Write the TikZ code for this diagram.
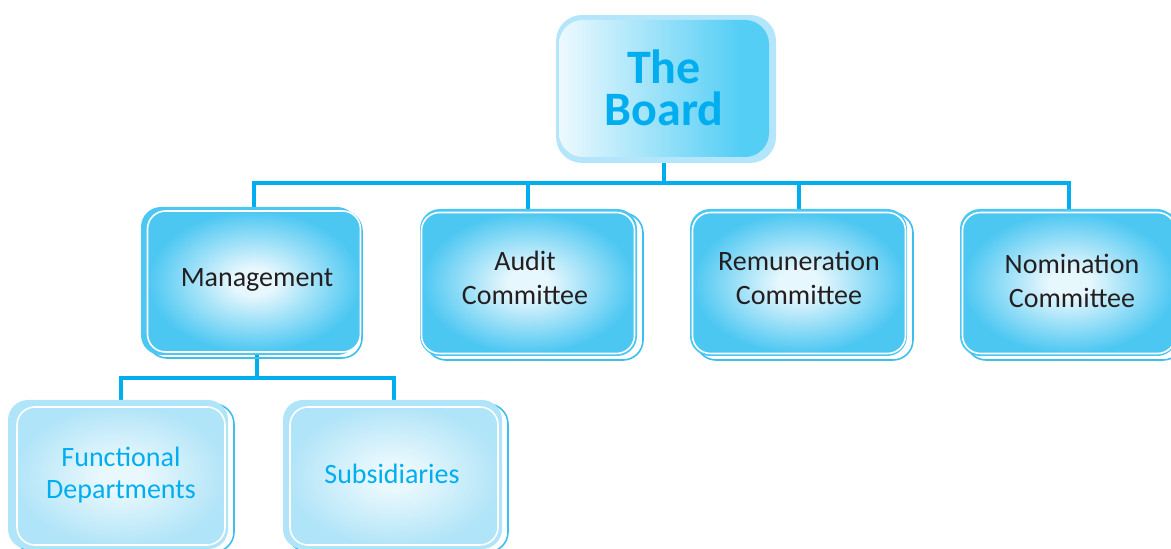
\documentclass[tikz,border=0pt]{standalone}
\usepackage{fontspec}
\setmainfont{Carlito}
\usetikzlibrary{backgrounds}
\definecolor{linec}{HTML}{00AEEF}
\definecolor{ltwoin}{HTML}{E6F7FD}
\definecolor{ltwoout}{HTML}{4CC7F2}
\definecolor{lthreein}{HTML}{E9F8FD}
\definecolor{lthreeout}{HTML}{B0E4F8}
\definecolor{bleft}{HTML}{EDF9FE}
\definecolor{bright}{HTML}{55CEF5}
\definecolor{bback}{HTML}{B3E6FA}
\definecolor{txt}{HTML}{231F20}
\definecolor{edgec}{HTML}{3DBFEE}
\pgfdeclareradialshading{ltwoshade}{\pgfpoint{0bp}{0bp}}{color(0bp)=(ltwoin); color(5bp)=(ltwoin); color(25bp)=(ltwoout); color(50bp)=(ltwoout)}
\pgfdeclareradialshading{lthreeshade}{\pgfpoint{0bp}{0bp}}{color(0bp)=(lthreein); color(5bp)=(lthreein); color(26bp)=(lthreeout); color(50bp)=(lthreeout)}
\pgfdeclarehorizontalshading{boardshade}{100bp}{color(0bp)=(bleft); color(25bp)=(bleft); color(68bp)=(bright); color(100bp)=(bright)}
\tikzset{
  conn/.style={draw=linec, line width=3.2bp},
  front/.style={rectangle, rounded corners=18bp, draw=white, line width=1.6bp, inner sep=0pt},
  ltwo/.style={front, shade, shading=ltwoshade, minimum width=213bp, minimum height=141bp},
  lthree/.style={front, shade, shading=lthreeshade, minimum width=208bp, minimum height=138bp},
  ltwotext/.style={inner sep=0pt, align=center, text=txt, font=\fontsize{28bp}{34bp}\selectfont},
  lthreetext/.style={inner sep=0pt, align=center, text=linec, font=\fontsize{28bp}{32bp}\selectfont},
  boardst/.style={rectangle, rounded corners=24bp, draw=none, shade, shading=boardshade, inner sep=0pt, minimum width=210bp, minimum height=137bp},
  boardtext/.style={inner sep=0pt, anchor=base, text=linec, font=\fontsize{48bp}{43bp}\selectfont\bfseries},
  backedge/.style={rounded corners=20bp, draw=edgec, line width=1.6bp},
  backfilltwo/.style={rounded corners=20bp, fill=ltwoout},
  backfillthree/.style={rounded corners=20bp, fill=lthreeout},
}
\begin{document}
\begin{tikzpicture}[x=1bp,y=-1bp]
\useasboundingbox (0,0) rectangle (1171,549);
% board
\fill[bback, rounded corners=26bp] (556,15) rectangle (776,163);
\node[boardst] (board) at (664,88.5) {};
\node[boardtext] (boardt1) at (664,84) {The};
\node[boardtext] (boardt2) at (664,126) {Board};
% level 2
\draw[backedge] (147,211) rectangle (362,358);
\fill[backfilltwo] (141,207) rectangle (357,355);
\node[ltwo] (mgmt) at (254,281.5) {};
\node[ltwotext] (mgmtt) at (257,280) {Management};
\draw[backedge] (426,213) rectangle (643,360);
\fill[backfilltwo] (420,209) rectangle (637,356);
\node[ltwo] (audit) at (528,283) {};
\node[ltwotext] (auditt) at (525,278) {Audit\\Committee};
\draw[backedge] (696,213) rectangle (913,360);
\fill[backfilltwo] (690,209) rectangle (907,356);
\node[ltwo] (remun) at (799,283) {};
\node[ltwotext] (remunt) at (799,278) {Remuneration\\Committee};
\draw[backedge] (966,213) rectangle (1183,360);
\fill[backfilltwo] (960,209) rectangle (1177,356);
\node[ltwo] (nom) at (1069,283) {};
\node[ltwotext] (nomt) at (1072,280.5) {Nomination\\Committee};
% level 3
\draw[backedge] (14,404) rectangle (234,552);
\fill[backfillthree] (8,400) rectangle (228,549);
\node[lthree] (func) at (121,476) {};
\node[lthreetext] (funct) at (121,475) {Functional\\Departments};
\draw[backedge] (288,404) rectangle (508,552);
\fill[backfillthree] (283,400) rectangle (502,549);
\node[lthree] (subs) at (394,476) {};
\node[lthreetext] (subst) at (392,474) {Subsidiaries};
% connectors
\coordinate (bus) at (664,183);
\coordinate (mbus) at (257,378);
\begin{scope}[on background layer]
\draw[conn] (board.south) -- (bus);
\draw[conn] (mgmt.north) |- (bus) -| (nom.north);
\draw[conn] (audit.north) -- (audit.north |- bus);
\draw[conn] (remun.north) -- (remun.north |- bus);
\draw[conn] (mgmt.south -| mbus) -- (mbus);
\draw[conn] (func.north) |- (mbus) -| (subs.north);
\end{scope}
\end{tikzpicture}
\end{document}
